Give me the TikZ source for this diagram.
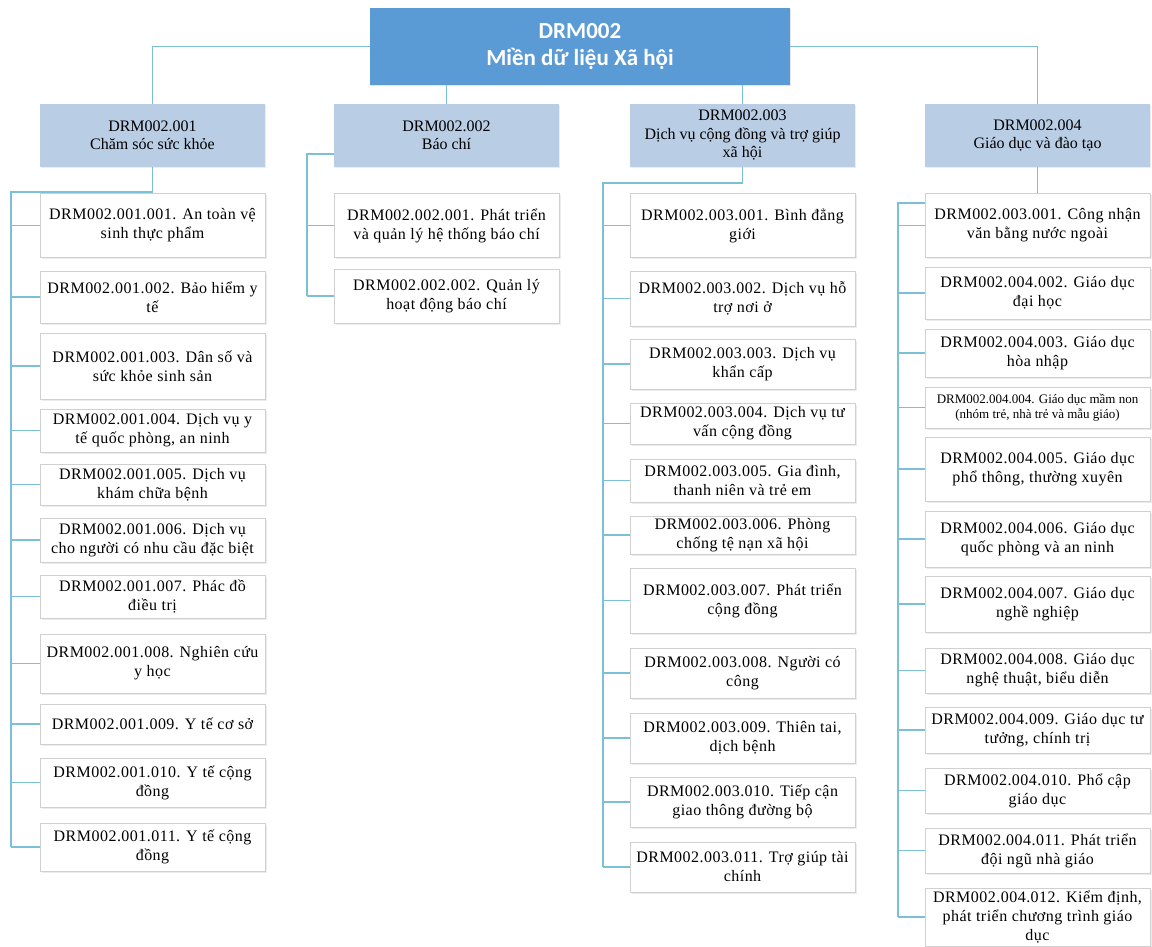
\documentclass[tikz,border=0pt]{standalone}
\usepackage{fontspec}
\setmainfont{Liberation Serif}
\newfontfamily\rootfont{Carlito}
\newfontfamily\leaffont[LetterSpace=3]{Liberation Serif}
\usetikzlibrary{positioning,shadows}
\definecolor{rootblue}{RGB}{91,155,213}
\definecolor{groupblue}{RGB}{185,205,229}
\definecolor{leafgray}{RGB}{208,208,208}
\definecolor{linkblue}{RGB}{122,192,214}

\begin{document}
\begin{tikzpicture}[
			x=1pt, y=-1pt,
			rootbox/.style = {fill=rootblue, text=white, font=\rootfont\bfseries\fontsize{23}{27}\selectfont,
				minimum width=420pt, minimum height=77pt, align=center, inner sep=0pt,
				drop shadow={shadow xshift=1pt, shadow yshift=-1.5pt, opacity=.2}},
			groupbox/.style = {fill=groupblue, font=\fontsize{16}{18.5}\selectfont,
				minimum width=225pt, minimum height=63pt, align=center, inner sep=0pt,
				drop shadow={shadow xshift=1pt, shadow yshift=-1.5pt, opacity=.15}},
			leaf/.style = {draw=leafgray, line width=1pt, fill=white, font=\leaffont\fontsize{16}{19}\selectfont,
				minimum width=225pt, align=center, inner sep=0pt,
				drop shadow={shadow xshift=1.5pt, shadow yshift=-1.5pt, opacity=.15}},
			smalltext/.style = {font=\fontsize{13}{15}\selectfont},
			link/.style = {draw=linkblue, line width=1.3pt}
		]
		\useasboundingbox (0,0) rectangle (1152,947);
		\node[rootbox] (r) at (580,46.5) {DRM002\\Miền dữ liệu Xã hội};
		% Level 1.
		\node[groupbox] (a) at (152.5,135.5) {DRM002.001\\Chăm sóc sức khỏe};
		\node[groupbox] (b) at (446.5,135.5) {DRM002.002\\Báo chí};
		\node[groupbox] (c) at (742.5,135.5) {DRM002.003\\Dịch vụ cộng đồng và trợ giúp\\xã hội};
		\node[groupbox] (d) at (1037.5,135.5) {DRM002.004\\Giáo dục và đào tạo};
		% Level 2, Cham soc suc khoe.
		\node[leaf, minimum height=63pt] (a1) at (152.5,225.5) {DRM002.001.001. An toàn vệ\\sinh thực phẩm};
		\node[leaf, minimum height=52pt] (a2) at (152.5,297) {DRM002.001.002. Bảo hiểm y\\tế};
		\node[leaf, minimum height=66pt] (a3) at (152.5,366) {DRM002.001.003. Dân số và\\sức khỏe sinh sản};
		\node[leaf, minimum height=43pt] (a4) at (152.5,430.5) {DRM002.001.004. Dịch vụ y\\tế quốc phòng, an ninh};
		\node[leaf, minimum height=41pt] (a5) at (152.5,484.5) {DRM002.001.005. Dịch vụ\\khám chữa bệnh};
		\node[leaf, minimum height=44pt] (a6) at (152.5,540) {DRM002.001.006. Dịch vụ\\cho người có nhu cầu đặc biệt};
		\node[leaf, minimum height=43pt] (a7) at (152.5,596.5) {DRM002.001.007. Phác đồ\\điều trị};
		\node[leaf, minimum height=59pt] (a8) at (152.5,663.5) {DRM002.001.008. Nghiên cứu\\y học};
		\node[leaf, minimum height=40pt] (a9) at (152.5,724) {DRM002.001.009. Y tế cơ sở};
		\node[leaf, minimum height=49pt] (a10) at (152.5,782.5) {DRM002.001.010. Y tế cộng\\đồng};
		\node[leaf, minimum height=48pt] (a11) at (152.5,847) {DRM002.001.011. Y tế cộng\\đồng};
		% Level 2, Bao chi.
		\node[leaf, minimum height=63pt] (b1) at (446.5,225.5) {DRM002.002.001. Phát triển\\và quản lý hệ thống báo chí};
		\node[leaf, minimum height=54pt] (b2) at (446.5,296) {DRM002.002.002. Quản lý\\hoạt động báo chí};
		% Level 2, Dich vu cong dong.
		\node[leaf, minimum height=63pt] (c1) at (742.5,225.5) {DRM002.003.001. Bình đẳng\\giới};
		\node[leaf, minimum height=55pt] (c2) at (742.5,298.5) {DRM002.003.002. Dịch vụ hỗ\\trợ nơi ở};
		\node[leaf, minimum height=50pt] (c3) at (742.5,364) {DRM002.003.003. Dịch vụ\\khẩn cấp};
		\node[leaf, minimum height=41pt] (c4) at (742.5,423.5) {DRM002.003.004. Dịch vụ tư\\vấn cộng đồng};
		\node[leaf, minimum height=43pt] (c5) at (742.5,480.5) {DRM002.003.005. Gia đình,\\thanh niên và trẻ em};
		\node[leaf, minimum height=38pt] (c6) at (742.5,535) {DRM002.003.006. Phòng\\chống tệ nạn xã hội};
		\node[leaf, minimum height=65pt] (c7) at (742.5,600.5) {DRM002.003.007. Phát triển\\cộng đồng};
		\node[leaf, minimum height=50pt] (c8) at (742.5,673) {DRM002.003.008. Người có\\công};
		\node[leaf, minimum height=50pt] (c9) at (742.5,738) {DRM002.003.009. Thiên tai,\\dịch bệnh};
		\node[leaf, minimum height=50pt] (c10) at (742.5,802) {DRM002.003.010. Tiếp cận\\giao thông đường bộ};
		\node[leaf, minimum height=50pt] (c11) at (742.5,867) {DRM002.003.011. Trợ giúp tài\\chính};
		% Level 2, Giao duc.
		\node[leaf, minimum height=63pt] (d1) at (1037.5,225.5) {DRM002.003.001. Công nhận\\văn bằng nước ngoài};
		\node[leaf, minimum height=52pt] (d2) at (1037.5,293) {DRM002.004.002. Giáo dục\\đại học};
		\node[leaf, minimum height=48pt] (d3) at (1037.5,353) {DRM002.004.003. Giáo dục\\hòa nhập};
		\node[leaf, smalltext, minimum height=41pt] (d4) at (1037.5,407.5) {DRM002.004.004. Giáo dục mầm non\\(nhóm trẻ, nhà trẻ và mẫu giáo)};
		\node[leaf, minimum height=64pt] (d5) at (1037.5,469) {DRM002.004.005. Giáo dục\\phổ thông, thường xuyên};
		\node[leaf, minimum height=56pt] (d6) at (1037.5,539) {DRM002.004.006. Giáo dục\\quốc phòng và an ninh};
		\node[leaf, minimum height=56pt] (d7) at (1037.5,604) {DRM002.004.007. Giáo dục\\nghề nghiệp};
		\node[leaf, minimum height=45pt] (d8) at (1037.5,670.5) {DRM002.004.008. Giáo dục\\nghệ thuật, biểu diễn};
		\node[leaf, minimum height=46pt] (d9) at (1037.5,730) {DRM002.004.009. Giáo dục tư\\tưởng, chính trị};
		\node[leaf, minimum height=45pt] (d10) at (1037.5,790.5) {DRM002.004.010. Phổ cập\\giáo dục};
		\node[leaf, minimum height=45pt] (d11) at (1037.5,850.5) {DRM002.004.011. Phát triển\\đội ngũ nhà giáo};
		\node[leaf, minimum height=58pt] (d12) at (1037.5,917) {DRM002.004.012. Kiểm định,\\phát triển chương trình giáo\\dục};
		% Spines.
		\coordinate (as) at (11,192);
		\coordinate (bs) at (307,154);
		\coordinate (cs) at (603,183);
		\coordinate (ds) at (898,203);

		\draw[link] (r.west) -| (a.north);
		\draw[link] (r.east) -| (d.north);
		\draw[link] (b.north |- r.south) -- (b.north);
		\draw[link] (c.north |- r.south) -- (c.north);

		\draw[link] (a.south) |- (as) -- (as |- a11.west);
		\draw[link] (as |- a1.west) -- (a1.west);
		\draw[link] (as |- a2.west) -- (a2.west);
		\draw[link] (as |- a3.west) -- (a3.west);
		\draw[link] (as |- a4.west) -- (a4.west);
		\draw[link] (as |- a5.west) -- (a5.west);
		\draw[link] (as |- a6.west) -- (a6.west);
		\draw[link] (as |- a7.west) -- (a7.west);
		\draw[link] (as |- a8.west) -- (a8.west);
		\draw[link] (as |- a9.west) -- (a9.west);
		\draw[link] (as |- a10.west) -- (a10.west);
		\draw[link] (as |- a11.west) -- (a11.west);

		\draw[link] (b.west |- bs) -- (bs) -- (bs |- b2.west);
		\draw[link] (bs |- b1.west) -- (b1.west);
		\draw[link] (bs |- b2.west) -- (b2.west);

		\draw[link] (c.south) |- (cs) -- (cs |- c11.west);
		\draw[link] (cs |- c1.west) -- (c1.west);
		\draw[link] (cs |- c2.west) -- (c2.west);
		\draw[link] (cs |- c3.west) -- (c3.west);
		\draw[link] (cs |- c4.west) -- (c4.west);
		\draw[link] (cs |- c5.west) -- (c5.west);
		\draw[link] (cs |- c6.west) -- (c6.west);
		\draw[link] (cs |- c7.west) -- (c7.west);
		\draw[link] (cs |- c8.west) -- (c8.west);
		\draw[link] (cs |- c9.west) -- (c9.west);
		\draw[link] (cs |- c10.west) -- (c10.west);
		\draw[link] (cs |- c11.west) -- (c11.west);

		\draw[link] (d.south) -- (d1.north);
		\draw[link] (d1.west |- ds) -- (ds) -- (ds |- d12.west);
		\draw[link] (ds |- d1.west) -- (d1.west);
		\draw[link] (ds |- d2.west) -- (d2.west);
		\draw[link] (ds |- d3.west) -- (d3.west);
		\draw[link] (ds |- d4.west) -- (d4.west);
		\draw[link] (ds |- d5.west) -- (d5.west);
		\draw[link] (ds |- d6.west) -- (d6.west);
		\draw[link] (ds |- d7.west) -- (d7.west);
		\draw[link] (ds |- d8.west) -- (d8.west);
		\draw[link] (ds |- d9.west) -- (d9.west);
		\draw[link] (ds |- d10.west) -- (d10.west);
		\draw[link] (ds |- d11.west) -- (d11.west);
		\draw[link] (ds |- d12.west) -- (d12.west);
	\end{tikzpicture}
\end{document}
